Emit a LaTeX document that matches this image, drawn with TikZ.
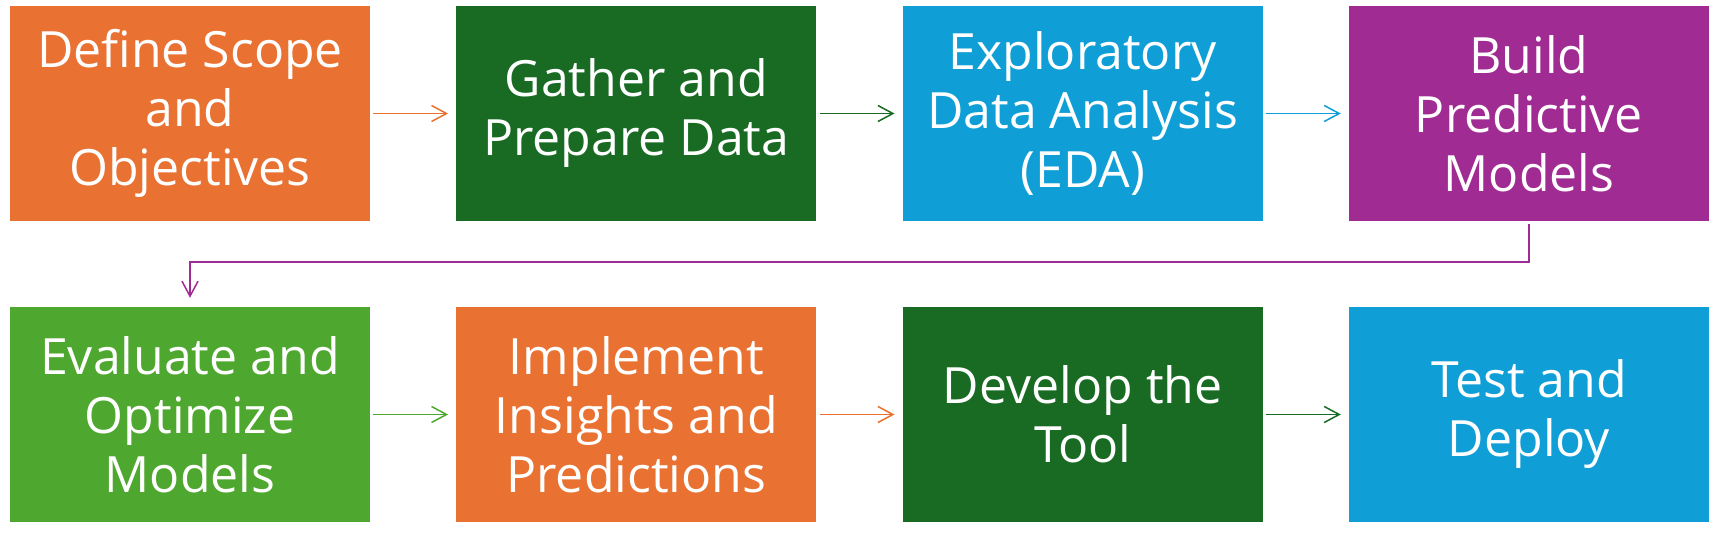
\documentclass[tikz,border=0pt]{standalone}
\usepackage{fontspec}
\setmainfont{Open Sans}
\usetikzlibrary{arrows.meta}
\definecolor{cOrange}{HTML}{E97132}
\definecolor{cDkGreen}{HTML}{196B24}
\definecolor{cBlue}{HTML}{0F9ED5}
\definecolor{cPurple}{HTML}{A02B93}
\definecolor{cLtGreen}{HTML}{4EA72E}
\tikzset{
  stepbox/.style={draw=none, fill=#1, text=white, minimum width=360pt, minimum height=215pt,
    inner sep=0pt, align=center, font=\fontsize{50}{59}\selectfont},
  conn/.style={draw=#1, line width=1.5pt, -{Straight Barb[length=15pt,width=16pt,line width=1.5pt]},
    shorten <=3pt, shorten >=8pt},
}
\begin{document}
\begin{tikzpicture}[x=1pt,y=-1pt]
\useasboundingbox (0,0) rectangle (1712,537);
\node[stepbox=cOrange]  (b1) at (190,113.5)    {Define Scope\\and\\Objectives};
\node[stepbox=cDkGreen] (b2) at (636.3,113.5)  {Gather and\\Prepare Data};
\node[stepbox=cBlue]    (b3) at (1082.7,113.5) {Exploratory\\Data Analysis\\(EDA)};
\node[stepbox=cPurple]  (b4) at (1529,113.5)   {Build\\Predictive\\Models};
\node[stepbox=cLtGreen] (b5) at (190,414.5)    {Evaluate and\\Optimize\\Models};
\node[stepbox=cOrange]  (b6) at (636.3,414.5)  {Implement\\Insights and\\Predictions};
\node[stepbox=cDkGreen] (b7) at (1082.7,414.5) {Develop the\\Tool};
\node[stepbox=cBlue]    (b8) at (1529,414.5)   {Test and\\Deploy};
\draw[conn=cOrange]  (b1.east) -- (b2.west);
\draw[conn=cDkGreen] (b2.east) -- (b3.west);
\draw[conn=cBlue]    (b3.east) -- (b4.west);
\coordinate (m) at (0,262);
\draw[conn=cPurple, shorten >=9pt] (b4.south) -- (b4.south |- m) -| (b5.north);
\draw[conn=cLtGreen] (b5.east) -- (b6.west);
\draw[conn=cOrange]  (b6.east) -- (b7.west);
\draw[conn=cDkGreen] (b7.east) -- (b8.west);
\end{tikzpicture}
\end{document}
